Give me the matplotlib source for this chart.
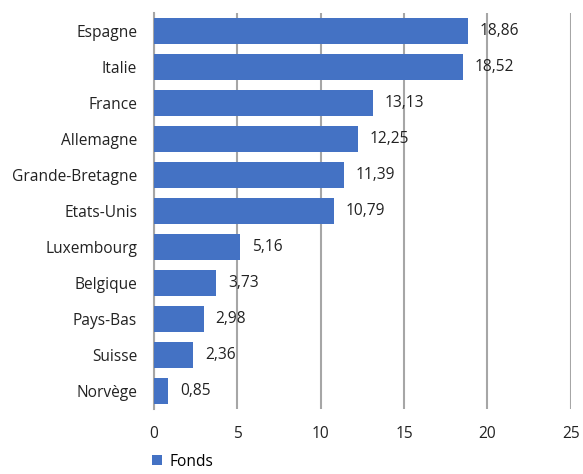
import matplotlib.pyplot as plt

pays = ["Espagne", "Italie", "France", "Allemagne", "Grande-Bretagne", "Etats-Unis",
        "Luxembourg", "Belgique", "Pays-Bas", "Suisse", "Norvège"]
fonds = [18.86, 18.52, 13.13, 12.25, 11.39, 10.79, 5.16, 3.73, 2.98, 2.36, 0.85]

plt.rcParams['font.family'] = ['Open Sans', 'DejaVu Sans']
bleu = "#4472C4"
fs = 11.2

fig = plt.figure(figsize=(5.83, 4.74), dpi=100)
ax = fig.add_axes([0.264, 0.137, 0.715, 0.836])

pos = list(range(len(pays)))[::-1]
bars = ax.barh(pos, fonds, height=0.72, color=bleu, label="Fonds", zorder=3)
for b, v in zip(bars, fonds):
    ax.text(b.get_width() + 0.7, b.get_y() + b.get_height() / 2,
            f"{v:.2f}".replace(".", ","), va="center", ha="left", fontsize=fs, color="#222222", zorder=4)

ax.set_xlim(0, 25)
ax.set_ylim(-0.5, 10.5)
ax.set_xticks([0, 5, 10, 15, 20, 25])
ax.set_yticks(pos)
ax.set_yticklabels(pays)
ax.xaxis.grid(True, color="#a6a6a6", linewidth=1.5, zorder=0)
for s in ["top", "right", "bottom"]:
    ax.spines[s].set_visible(False)
ax.spines["left"].set_color("#a6a6a6")
ax.spines["left"].set_linewidth(1.5)
ax.tick_params(axis="both", length=0, labelsize=fs, colors="#222222")
ax.tick_params(axis="x", pad=12)
ax.tick_params(axis="y", pad=12)

ax.legend(loc="upper left", bbox_to_anchor=(-0.03, -0.085), frameon=False,
          fontsize=fs, handlelength=0.6, handleheight=0.6, handletextpad=0.5,
          borderpad=0.2)

fig.savefig("out.png", dpi=100)
